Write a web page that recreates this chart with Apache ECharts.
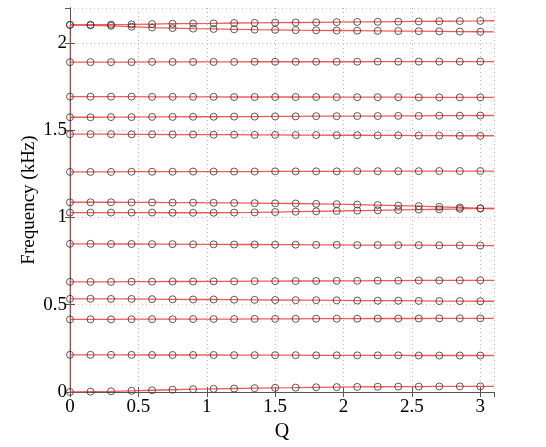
<!DOCTYPE html>
<html>
<head>
<meta charset="utf-8">
<script src="https://cdn.jsdelivr.net/npm/echarts@6/dist/echarts.min.js"></script>
<style>
  html, body { margin: 0; padding: 0; background: #fff; }
  #chart { width: 546px; height: 447px; }
</style>
</head>
<body>
<div id="chart"></div>
<script>
// wave number samples (circles)
const q = [0, 0.15, 0.3, 0.45, 0.6, 0.75, 0.9, 1.05, 1.2, 1.35, 1.5, 1.65, 1.8, 1.95, 2.1, 2.25, 2.4, 2.55, 2.7, 2.85, 3.0]
const qEdge = 3.1

// frequency branches (kHz), one value per q
const b01 = [0, 0.002, 0.004, 0.007, 0.010, 0.013, 0.016, 0.018, 0.020, 0.022, 0.024, 0.025, 0.027, 0.028, 0.029, 0.030, 0.031, 0.031, 0.032, 0.032, 0.032]
const b02 = [0.213, 0.213, 0.213, 0.213, 0.212, 0.212, 0.212, 0.212, 0.211, 0.211, 0.211, 0.211, 0.210, 0.210, 0.210, 0.210, 0.210, 0.209, 0.209, 0.209, 0.209]
const b03 = [0.416, 0.416, 0.416, 0.417, 0.417, 0.417, 0.418, 0.418, 0.418, 0.419, 0.419, 0.419, 0.420, 0.420, 0.420, 0.421, 0.421, 0.421, 0.422, 0.422, 0.422]
const b04 = [0.534, 0.534, 0.533, 0.533, 0.532, 0.531, 0.530, 0.530, 0.529, 0.528, 0.527, 0.526, 0.526, 0.525, 0.524, 0.523, 0.523, 0.522, 0.521, 0.521, 0.520]
const b05 = [0.631, 0.631, 0.631, 0.632, 0.632, 0.633, 0.633, 0.634, 0.634, 0.635, 0.635, 0.636, 0.636, 0.637, 0.637, 0.638, 0.638, 0.639, 0.639, 0.640, 0.640]
const b06 = [0.849, 0.849, 0.848, 0.848, 0.847, 0.847, 0.846, 0.846, 0.845, 0.845, 0.844, 0.844, 0.843, 0.843, 0.842, 0.842, 0.841, 0.841, 0.840, 0.840, 0.839]
const b07 = [1.028, 1.028, 1.028, 1.028, 1.028, 1.027, 1.027, 1.027, 1.028, 1.029, 1.031, 1.033, 1.035, 1.037, 1.039, 1.041, 1.043, 1.045, 1.047, 1.049, 1.052]
const b08 = [1.087, 1.087, 1.087, 1.086, 1.086, 1.085, 1.085, 1.084, 1.083, 1.082, 1.081, 1.080, 1.078, 1.076, 1.074, 1.071, 1.068, 1.065, 1.061, 1.057, 1.052]
const b09 = [1.261, 1.261, 1.261, 1.262, 1.262, 1.262, 1.263, 1.263, 1.263, 1.263, 1.264, 1.264, 1.264, 1.264, 1.265, 1.265, 1.265, 1.265, 1.266, 1.266, 1.266]
const b10 = [1.477, 1.477, 1.477, 1.476, 1.476, 1.475, 1.475, 1.474, 1.474, 1.473, 1.473, 1.472, 1.472, 1.471, 1.471, 1.470, 1.470, 1.469, 1.469, 1.468, 1.468]
const b11 = [1.574, 1.574, 1.575, 1.575, 1.576, 1.576, 1.577, 1.577, 1.578, 1.578, 1.579, 1.579, 1.580, 1.580, 1.581, 1.581, 1.582, 1.582, 1.583, 1.583, 1.584]
const b12 = [1.692, 1.692, 1.692, 1.692, 1.691, 1.691, 1.691, 1.691, 1.690, 1.690, 1.690, 1.690, 1.690, 1.689, 1.689, 1.689, 1.689, 1.688, 1.688, 1.688, 1.688]
const b13 = [1.890, 1.890, 1.890, 1.890, 1.891, 1.891, 1.891, 1.891, 1.891, 1.892, 1.892, 1.892, 1.892, 1.892, 1.892, 1.893, 1.893, 1.893, 1.893, 1.893, 1.893]
const b14 = [2.103, 2.101, 2.098, 2.093, 2.088, 2.085, 2.082, 2.080, 2.078, 2.076, 2.075, 2.073, 2.072, 2.071, 2.070, 2.069, 2.068, 2.067, 2.066, 2.065, 2.064]
const b15 = [2.103, 2.104, 2.105, 2.106, 2.108, 2.110, 2.111, 2.112, 2.114, 2.115, 2.116, 2.117, 2.118, 2.119, 2.120, 2.121, 2.122, 2.123, 2.124, 2.125, 2.126]
const branches = [b01, b02, b03, b04, b05, b06, b07, b08, b09, b10, b11, b12, b13, b14, b15]

// where each red curve meets the right edge (q = 3.1)
const edgeValues = [0.032, 0.209, 0.422, 0.520, 0.640, 0.839, 1.054, 1.050, 1.266, 1.468, 1.584, 1.688, 1.893, 2.063, 2.127]

const xTicks = [0, 0.5, 1, 1.5, 2, 2.5, 3]
const yTicks = [0, 0.5, 1, 1.5, 2]

const chart = echarts.init(document.getElementById('chart'))

const font = 'Liberation Serif'
const frame = '#555'

const series = []
branches.forEach((b, i) => {
  const pts = q.map((x, j) => [x, b[j]])
  pts.push([qEdge, edgeValues[i]])
  series.push({
    type: 'line', data: pts, symbol: 'none', silent: true, z: 3,
    lineStyle: { color: '#f04848', width: 1.3, opacity: 0.9 }
  })
})
// red branch hugging q = 0
series.push({
  type: 'line', data: [[0, b01[0]], [0, b15[0]]], symbol: 'none', silent: true, z: 3,
  lineStyle: { color: '#f04848', width: 1.3, opacity: 0.6 }
})
series.push({
  type: 'scatter', z: 4,
  data: branches.flatMap(b => q.map((x, j) => [x, b[j]])),
  symbol: 'circle', symbolSize: 7,
  itemStyle: { color: 'rgba(0,0,0,0)', borderColor: '#333', borderWidth: 1 }
})

const gridLine = { show: true, lineStyle: { color: '#bbb', type: [1, 3], width: 1 } }

chart.setOption({
  animation: false,
  grid: { left: 70, right: 52, top: 8, bottom: 53 },
  xAxis: [{
    type: 'value', min: 0, max: qEdge, interval: 0.5,
    name: 'Q', nameLocation: 'middle', nameGap: 30, nameMoveOverlap: false,
    nameTextStyle: { fontFamily: font, fontSize: 20, color: '#000' },
    axisLine: { show: true, lineStyle: { color: frame } },
    axisTick: { show: true, inside: true, length: 5, lineStyle: { color: frame } },
    axisLabel: {
      fontFamily: font, fontSize: 19, color: '#000', margin: 6, showMaxLabel: false,
      formatter: v => xTicks.includes(v) ? String(v) : ''
    },
    splitLine: gridLine
  }, {
    type: 'value', min: 0, max: qEdge, interval: 0.5, position: 'top',
    axisLine: { show: true, lineStyle: { color: frame } },
    axisTick: { show: true, inside: true, length: 5, lineStyle: { color: frame } },
    axisLabel: { show: false }, splitLine: { show: false }
  }],
  yAxis: [{
    type: 'value', min: 0, max: 2.2, interval: 0.5,
    name: 'Frequency (kHz)', nameLocation: 'middle', nameGap: 31, nameMoveOverlap: false,
    nameTextStyle: { fontFamily: font, fontSize: 19, color: '#000' },
    axisLine: { show: true, lineStyle: { color: frame } },
    axisTick: { show: true, inside: true, length: 5, lineStyle: { color: frame } },
    axisLabel: {
      fontFamily: font, fontSize: 19, color: '#000', margin: 3, showMaxLabel: false,
      formatter: v => yTicks.includes(v) ? String(v) : ''
    },
    splitLine: gridLine
  }, {
    type: 'value', min: 0, max: 2.2, interval: 0.5, position: 'right',
    axisLine: { show: true, lineStyle: { color: frame } },
    axisTick: { show: true, inside: true, length: 5, lineStyle: { color: frame } },
    axisLabel: { show: false }, splitLine: { show: false }
  }],
  series
})
</script>
</body>
</html>
